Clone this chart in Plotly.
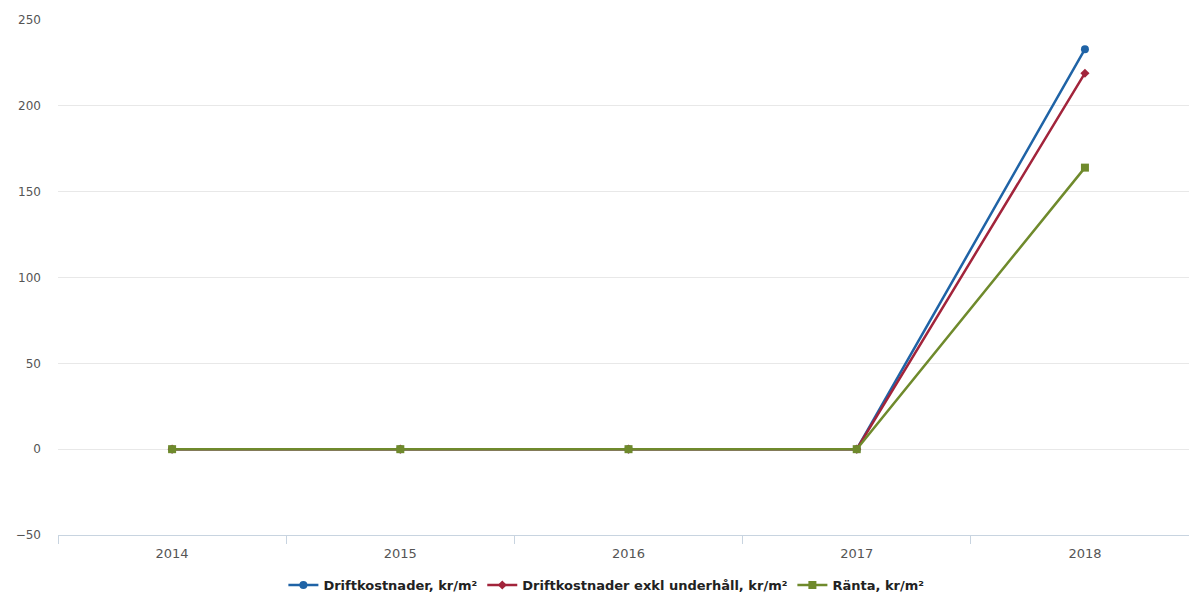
import plotly.graph_objects as go

years = ["2014", "2015", "2016", "2017", "2018"]
drift = [0, 0, 0, 0, 233]
drift_exkl = [0, 0, 0, 0, 219]
ranta = [0, 0, 0, 0, 164]

series = [
    ("Driftkostnader, kr/m²", drift, "#1f63a6", "circle", 8),
    ("Driftkostnader exkl underhåll, kr/m²", drift_exkl, "#a2243b", "diamond", 7),
    ("Ränta, kr/m²", ranta, "#6f8a2c", "square", 8),
]

fig = go.Figure()
for name, vals, color, sym, size in series:
    fig.add_trace(go.Scatter(
        x=years, y=vals, name=name, mode="lines+markers",
        line=dict(color=color, width=2.5),
        marker=dict(symbol=sym, size=size, color=color),
    ))

fig.update_layout(
    width=1189, height=600,
    margin=dict(l=58, r=0, t=20, b=65),
    paper_bgcolor="white", plot_bgcolor="white",
    font=dict(family="DejaVu Sans", size=12, color="#555"),
    showlegend=True,
    legend=dict(
        orientation="h", xref="container", x=0.51, xanchor="center",
        yref="container", y=-0.015, yanchor="bottom",
        font=dict(family="DejaVu Sans", size=13, color="#222", weight="bold"),
        itemwidth=30,
    ),
)
fig.update_xaxes(
    type="category", range=[-0.5, 4.456],
    showgrid=False, showline=True, linecolor="#c8d4e0", linewidth=1,
    ticks="outside", tickson="boundaries", ticklen=8, tickcolor="#c8d4e0",
    ticklabelstandoff=6,
    tickfont=dict(size=13, color="#555"),
)
fig.update_yaxes(
    range=[-50, 250], tickvals=[-50, 0, 50, 100, 150, 200, 250],
    showgrid=True, gridcolor="#e8e8e8", gridwidth=1,
    zeroline=False, showline=False,
    ticklabelstandoff=16,
    tickfont=dict(size=12, color="#555"),
)

fig.write_html("out.html")
